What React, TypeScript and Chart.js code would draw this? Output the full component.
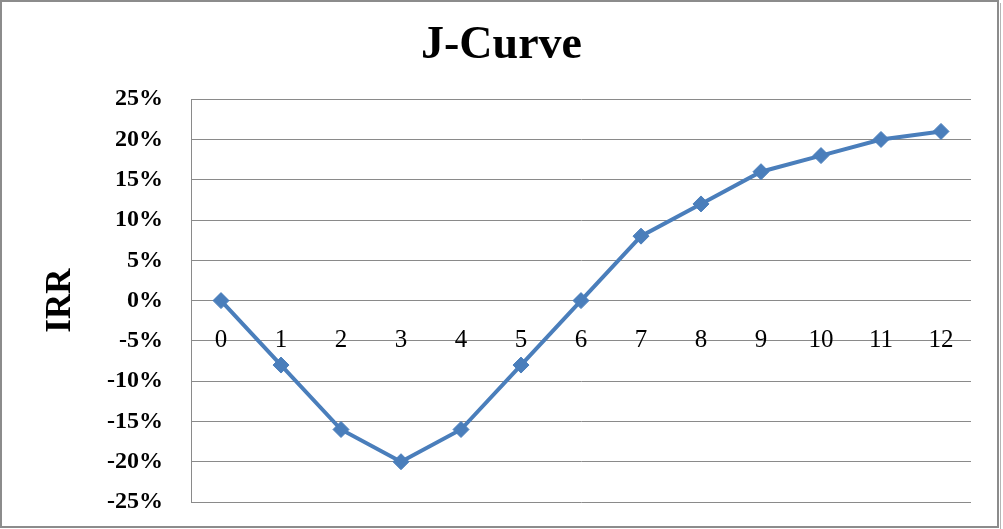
import React, { useEffect, useRef } from "react";
import { Chart, registerables } from "chart.js";

Chart.register(...registerables);

const categories: string[] = ["0", "1", "2", "3", "4", "5", "6", "7", "8", "9", "10", "11", "12"];
const irrValues: number[] = [0, -8, -16, -20, -16, -8, 0, 8, 12, 16, 18, 20, 21];
const yMin = -25;
const yMax = 25;
const yStep = 5;
const chartTitle = "J-Curve";
const yAxisTitle = "IRR";

const FONT = "'Liberation Serif', 'Times New Roman', serif";

const frame = {
  id: "frame",
  afterDraw(chart: any) {
    const ctx = chart.ctx;
    ctx.save();
    ctx.strokeStyle = "#8c8c8c";
    ctx.lineWidth = 2;
    ctx.strokeRect(1, 1, 997, 526);
    ctx.strokeStyle = "#b5b5b5";
    ctx.lineWidth = 1;
    ctx.beginPath();
    ctx.moveTo(1000.5, 3);
    ctx.lineTo(1000.5, 529);
    ctx.stroke();
    ctx.restore();
  },
};

export default function App() {
  const ref = useRef<HTMLCanvasElement | null>(null);

  useEffect(() => {
    if (!ref.current) return;
    const chart = new Chart(ref.current, {
      type: "line",
      data: {
        labels: categories,
        datasets: [
          {
            label: yAxisTitle,
            data: irrValues,
            yAxisID: "y",
            borderColor: "#4A7EBB",
            backgroundColor: "#4A7EBB",
            borderWidth: 4,
            tension: 0,
            pointStyle: "rectRot",
            pointRadius: 8,
            pointHoverRadius: 8,
            pointBackgroundColor: "#4A7EBB",
            pointBorderColor: "#4A7EBB",
            pointBorderWidth: 1,
          },
        ],
      },
      options: {
        animation: false,
        responsive: false,
        maintainAspectRatio: false,
        layout: { padding: { left: 16, right: 16, top: 0, bottom: 27 } },
        plugins: {
          legend: { display: false },
          tooltip: { enabled: false },
          title: {
            display: true,
            text: chartTitle,
            color: "#000",
            font: { family: FONT, size: 46, weight: "bold" },
            padding: { top: 19, bottom: 25 },
          },
        },
        scales: {
          x: {
            type: "category",
            offset: true,
            position: { y: 0 } as any,
            afterFit: (scale: any) => {
              scale.paddingTop = 0;
              scale.paddingBottom = 0;
              scale.paddingLeft = 0;
              scale.paddingRight = 0;
            },
            grid: { display: false, drawTicks: false },
            border: { display: false },
            ticks: {
              color: "#000",
              font: { family: FONT, size: 25 },
              padding: 25,
              maxRotation: 0,
              autoSkip: false,
            },
          },
          y: {
            position: "left",
            min: yMin,
            max: yMax,
            afterFit: (scale: any) => {
              scale.width = 175;
              scale.paddingTop = 0;
              scale.paddingBottom = 0;
            },
            grid: { color: "#8a8a8a", lineWidth: 1, drawTicks: false },
            border: { display: true, color: "#8a8a8a", width: 1 },
            ticks: {
              stepSize: yStep,
              color: "#000",
              font: { family: FONT, size: 24, weight: "bold" },
              padding: 28,
              callback: (v: any) => `${v}%`,
            },
            title: {
              display: true,
              text: yAxisTitle,
              color: "#000",
              font: { family: FONT, size: 35, weight: "bold" },
              padding: { top: 24, bottom: 0 },
            },
          },
          yRightSpacer: {
            type: "linear",
            position: "right",
            min: yMin,
            max: yMax,
            afterFit: (scale: any) => {
              scale.width = 16;
              scale.paddingTop = 0;
              scale.paddingBottom = 0;
            },
            grid: { display: false, drawTicks: false },
            border: { display: false },
            ticks: { display: false },
          },
        },
      },
      plugins: [frame],
    });
    return () => chart.destroy();
  }, []);

  return (
    <div style={{ position: "fixed", left: 0, top: 0, width: 1003, height: 529, background: "#fff" }}>
      <canvas ref={ref} width={1003} height={529} style={{ display: "block" }} />
    </div>
  );
}
